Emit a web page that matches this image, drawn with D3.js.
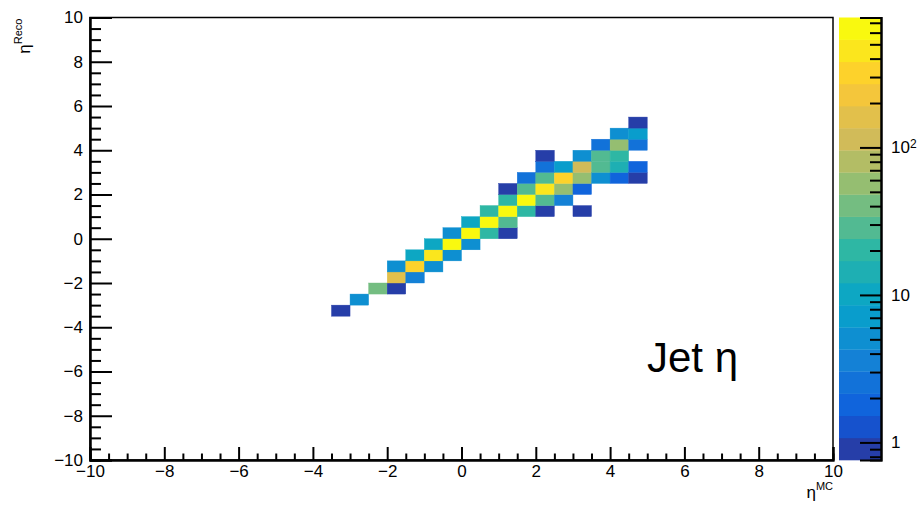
<!DOCTYPE html>
<html>
<head>
<meta charset="utf-8">
<script src="https://cdn.jsdelivr.net/npm/d3@7"></script>
<style>
  body { margin: 0; background: #fff; }
  svg { display: block; }
  text { font-family: "Liberation Sans", Arial, Helvetica, sans-serif; fill: #000; }
</style>
</head>
<body>
<svg id="chart" width="924" height="513"></svg>
<script>
// Jet eta response: reconstructed vs generated, 0.5-wide bins (lower edges) and entries
const etaMCLow   = [-3.5,
                    -3.0,
                    -2.5, -2.0,
                    -2.0, -1.5,
                    -2.0, -1.5, -1.0,
                    -1.5, -1.0, -0.5,
                    -1.0, -0.5,  0.0,
                    -0.5,  0.0,  0.5, 1.0,
                     0.0,  0.5,  1.0,
                     0.5,  1.0,  1.5, 2.0, 3.0,
                     1.0,  1.5,  2.0, 2.5,
                     1.0,  1.5,  2.0, 2.5, 3.0,
                     1.5,  2.0,  2.5, 3.0, 3.5, 4.0, 4.5,
                     2.0,  2.5,  3.0, 3.5, 4.0, 4.5,
                     2.0,  3.0,  3.5, 4.0,
                     3.5,  4.0,  4.5,
                     4.0,  4.5,
                     4.5];
const etaRecoLow = [-3.5,
                    -3.0,
                    -2.5, -2.5,
                    -2.0, -2.0,
                    -1.5, -1.5, -1.5,
                    -1.0, -1.0, -1.0,
                    -0.5, -0.5, -0.5,
                     0.0,  0.0,  0.0, 0.0,
                     0.5,  0.5,  0.5,
                     1.0,  1.0,  1.0, 1.0, 1.0,
                     1.5,  1.5,  1.5, 1.5,
                     2.0,  2.0,  2.0, 2.0, 2.0,
                     2.5,  2.5,  2.5, 2.5, 2.5, 2.5, 2.5,
                     3.0,  3.0,  3.0, 3.0, 3.0, 3.0,
                     3.5,  3.5,  3.5, 3.5,
                     4.0,  4.0,  4.0,
                     4.5,  4.5,
                     5.0];
const entries    = [1,
                    5,
                    40, 1,
                    160, 4,
                    5, 320, 5,
                    10, 450, 5,
                    10, 620, 5,
                    5, 760, 20, 1,
                    10, 700, 28,
                    20, 680, 20, 1, 1,
                    20, 640, 28, 4,
                    1, 28, 480, 58, 2,
                    3, 28, 330, 56, 5, 2, 1,
                    3, 8, 110, 30, 15, 2,
                    1, 5, 27, 19,
                    3, 55, 3,
                    5, 8,
                    1];

const binWidth = 0.5;
const axisRange = [-10, 10];
const axisMajorTicks = d3.range(-10, 10.001, 2);
const axisMinorTicks = d3.range(-10, 10.001, 0.5).filter(v => Math.abs(v % 2) > 1e-9);
const zRange = [0.76, 760];
const zMajorTicks = [1, 10, 100];
const zMinorTicks = [0.8, 0.9, 2, 3, 4, 5, 6, 7, 8, 9, 20, 30, 40, 50, 60, 70, 80, 90, 200, 300, 400, 500, 600, 700];
const nContours = 20;

// "Bird" palette: 9 stops, 255-colour gradient table
const stops = [0.0000, 0.1250, 0.2500, 0.3750, 0.5000, 0.6250, 0.7500, 0.8750, 1.0000];
const red   = [0.2082, 0.0592, 0.0780, 0.0232, 0.1802, 0.5301, 0.8186, 0.9956, 0.9764];
const green = [0.1664, 0.3599, 0.5041, 0.6419, 0.7178, 0.7492, 0.7328, 0.7862, 0.9832];
const blue  = [0.5293, 0.8684, 0.8385, 0.7914, 0.6425, 0.4662, 0.3499, 0.1968, 0.0539];

function gradientTable(nColors) {
  const out = [];
  for (let g = 1; g < stops.length; g++) {
    const n = Math.floor(nColors * stops[g]) - Math.floor(nColors * stops[g - 1]);
    for (let c = 0; c < n; c++) {
      const r = red[g - 1] + c * (red[g] - red[g - 1]) / n;
      const gg = green[g - 1] + c * (green[g] - green[g - 1]) / n;
      const b = blue[g - 1] + c * (blue[g] - blue[g - 1]) / n;
      out.push(d3.rgb(Math.round(r * 255), Math.round(gg * 255), Math.round(b * 255)).formatHex());
    }
  }
  return out;
}
const palette = gradientTable(255);
const bandColor = k => palette[Math.floor((k + 0.99) * palette.length / nContours)];

const svg = d3.select("#chart");
const frame = { left: 90, right: 833, top: 17.5, bottom: 460 };
const bar = { left: 839, right: 881 };

const x = d3.scaleLinear().domain(axisRange).range([frame.left, frame.right]);
const y = d3.scaleLinear().domain(axisRange).range([frame.bottom, frame.top]);
const z = d3.scaleLog().domain(zRange).range([frame.bottom, frame.top]);
const zl = d3.scaleLinear().domain(zRange.map(Math.log10)).range([0, nContours]);
const bandOf = v => Math.max(0, Math.min(nContours - 1, Math.floor(zl(Math.log10(v)))));

// cells
const cells = etaMCLow.map((m, i) => ({ m, r: etaRecoLow[i], v: entries[i] }));
svg.append("g").selectAll("rect").data(cells).join("rect")
  .attr("x", d => x(d.m))
  .attr("y", d => y(d.r + binWidth))
  .attr("width", d => x(d.m + binWidth) - x(d.m))
  .attr("height", d => y(d.r) - y(d.r + binWidth))
  .attr("fill", d => bandColor(bandOf(d.v)))
  .attr("stroke", d => bandColor(bandOf(d.v)))
  .attr("stroke-width", 0.4);

// frame
svg.append("rect")
  .attr("x", frame.left).attr("y", frame.top)
  .attr("width", frame.right - frame.left).attr("height", frame.bottom - frame.top)
  .attr("fill", "none").attr("stroke", "#000").attr("stroke-width", 1.5);

function styleAxis(g) {
  g.selectAll(".domain").attr("stroke", "#000").attr("stroke-width", 2);
  g.selectAll(".tick line").attr("stroke", "#000").attr("stroke-width", 2);
  g.selectAll("text").attr("font-size", 17).attr("font-family", null);
}
const minusFmt = v => (v < 0 ? "\u2212" : "") + Math.abs(v);

// x axis
const gx = svg.append("g").attr("transform", `translate(0,${frame.bottom})`);
gx.append("g").call(d3.axisBottom(x).tickValues(axisMinorTicks).tickSize(-6.5).tickFormat("")).call(styleAxis);
gx.append("g").call(d3.axisBottom(x).tickValues(axisMajorTicks).tickSize(-13).tickPadding(5).tickFormat(minusFmt)).call(styleAxis);

// y axis
const gy = svg.append("g").attr("transform", `translate(${frame.left},0)`);
gy.append("g").call(d3.axisLeft(y).tickValues(axisMinorTicks).tickSize(-11).tickFormat("")).call(styleAxis);
gy.append("g").call(d3.axisLeft(y).tickValues(axisMajorTicks).tickSize(-22).tickPadding(7).tickFormat(minusFmt)).call(styleAxis);

// colour scale bar
const bands = d3.range(nContours).map(k => ({
  k,
  lo: Math.pow(10, zl.invert(k)),
  hi: Math.pow(10, zl.invert(k + 1))
}));
svg.append("g").selectAll("rect").data(bands).join("rect")
  .attr("x", bar.left)
  .attr("y", d => z(d.hi))
  .attr("width", bar.right - bar.left)
  .attr("height", d => z(d.lo) - z(d.hi) + 0.3)
  .attr("fill", d => bandColor(d.k));

const gz = svg.append("g").attr("transform", `translate(${bar.right},0)`);
gz.append("g").call(d3.axisRight(z).tickValues(zMinorTicks).tickSize(-11).tickFormat("")).call(styleAxis);
gz.append("g").call(d3.axisRight(z).tickValues(zMajorTicks).tickSize(-21).tickPadding(10).tickFormat(() => "")).call(styleAxis);
gz.selectAll(".tick text").each(function (d) {
  if (!zMajorTicks.includes(d)) return;
  const t = d3.select(this);
  const e = Math.round(Math.log10(d));
  if (e === 0) t.text("1");
  else if (e === 1) t.text("10");
  else {
    t.append("tspan").text("10");
    t.append("tspan").attr("dy", "-0.45em").attr("font-size", 12).text(e);
  }
});

// axis titles
const xt = svg.append("text").attr("x", frame.right).attr("y", 498)
  .attr("text-anchor", "end").attr("font-size", 17);
xt.append("tspan").text("\u03b7");
xt.append("tspan").attr("dy", -8).attr("font-size", 11).text("MC");

const yt = svg.append("text").attr("transform", `translate(30,${frame.top + 1}) rotate(-90)`)
  .attr("text-anchor", "end").attr("font-size", 17);
yt.append("tspan").text("\u03b7");
yt.append("tspan").attr("dy", -8).attr("font-size", 11).text("Reco");

// label
svg.append("text").attr("x", 647).attr("y", 372)
  .attr("font-family", "'Open Sans', 'Noto Sans', sans-serif")
  .attr("font-size", 42).text("Jet \u03b7");
</script>
</body>
</html>
